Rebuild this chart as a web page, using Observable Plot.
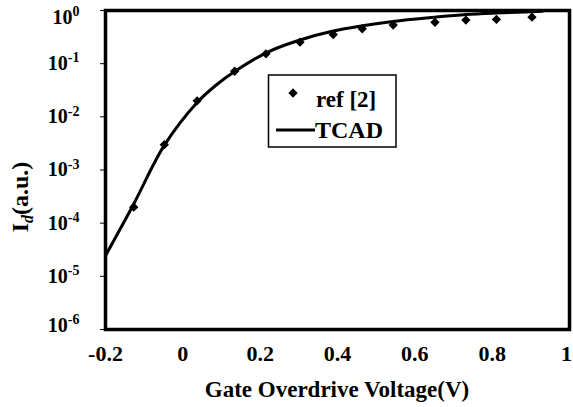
<!DOCTYPE html>
<html>
<head>
<meta charset="utf-8">
<script src="https://cdn.jsdelivr.net/npm/d3@7"></script>
<script src="https://cdn.jsdelivr.net/npm/@observablehq/plot@0.6"></script>
<style>
  html, body { margin: 0; padding: 0; background: #fff; }
  #chart { width: 573px; height: 407px; }
</style>
</head>
<body>
<div id="chart"></div>
<script>
// ref [2] measured points
const refV = [-0.127, -0.048, 0.037, 0.134, 0.215, 0.303, 0.389, 0.464, 0.544, 0.652, 0.732, 0.811, 0.903];
const refI = [2.0e-4, 3.0e-3, 0.02, 0.072, 0.153, 0.254, 0.354, 0.453, 0.534, 0.60, 0.66, 0.68, 0.75];
// TCAD curve
const tcadV = [-0.2, -0.127, -0.048, 0.037, 0.088, 0.134, 0.217, 0.295, 0.389, 0.544, 0.652, 0.732, 0.811, 0.903, 0.93];
const tcadI = [2.45e-5, 2.3e-4, 2.9e-3, 0.0186, 0.0406, 0.0713, 0.162, 0.267, 0.411, 0.621, 0.748, 0.841, 0.897, 0.945, 0.966];
// ticks
const xTicks = [-0.2, 0, 0.2, 0.4, 0.6, 0.8, 1];
const xTickLabels = ["-0.2", "0", "0.2", "0.4", "0.6", "0.8", "1"];
const yTicks = [1e-6, 1e-5, 1e-4, 1e-3, 1e-2, 1e-1, 1];
const yExponents = ["-6", "-5", "-4", "-3", "-2", "-1", "0"];
const legendLabels = ["ref [2]", "TCAD"];
const xTitle = "Gate Overdrive Voltage(V)";

const refData = refV.map((v, i) => ({v, I: refI[i]}));
const tcadData = tcadV.map((v, i) => ({v, I: tcadI[i]}));

const font = "'Liberation Serif', 'Times New Roman', serif";

const svg = Plot.plot({
  width: 573,
  height: 407,
  marginLeft: 105,
  marginRight: 4,
  marginTop: 10,
  marginBottom: 78,
  style: {fontFamily: font, fontWeight: "bold", fontSize: "20px", color: "black", background: "white"},
  x: {domain: [-0.2, 1]},
  y: {type: "log", domain: [1e-6, 1]},
  marks: [
    Plot.axisX({ticks: xTicks, tickSize: 0, tickPadding: 16, fontSize: 22,
      tickFormat: d => xTickLabels[xTicks.indexOf(d)], label: null}),
    Plot.axisY({ticks: yTicks, tickSize: 5, tickPadding: 21, fontSize: 20, strokeWidth: 1,
      tickFormat: d => yExponents[yTicks.indexOf(d)], label: null}),
    Plot.line(tcadData, {x: "v", y: "I", curve: "catmull-rom", stroke: "black", strokeWidth: 3}),
    Plot.dot(refData, {x: "v", y: "I", symbol: "diamond2", r: 4.2, fill: "black", stroke: "none"}),
    Plot.frame({stroke: "black", strokeWidth: 3.5})
  ]
});

const s = d3.select(svg);
// superscript exponents on y tick labels
s.selectAll('g[aria-label="y-axis tick label"] text').each(function() {
  const exp = this.textContent;
  const t = d3.select(this);
  t.text(null);
  t.append("tspan").text("10");
  t.append("tspan").attr("font-size", 14).attr("dy", "-0.55em").text(exp);
  if (exp === "0") t.attr("transform", (t.attr("transform") || "") + " translate(0,7)");
  if (exp === "-6") t.attr("transform", (t.attr("transform") || "") + " translate(0,-4)");
});
// keep the last x label inside the picture
const xl = s.selectAll('g[aria-label="x-axis tick label"] text').nodes();
if (xl.length) d3.select(xl[xl.length - 1]).attr("dx", -3);

// x axis title
s.append("text")
  .attr("x", 337).attr("y", 397)
  .attr("text-anchor", "middle")
  .attr("font-family", font).attr("font-weight", "bold").attr("font-size", 23)
  .attr("fill", "black")
  .text(xTitle);

// y axis title: I_d(a.u.)
const yt = s.append("text")
  .attr("transform", "translate(28,197) rotate(-90)")
  .attr("text-anchor", "middle")
  .attr("font-family", font).attr("font-weight", "bold").attr("font-size", 24)
  .attr("fill", "black");
yt.append("tspan").text("I");
yt.append("tspan").attr("font-size", 16).attr("dy", "0.3em").attr("font-style", "italic").text("d");
yt.append("tspan").attr("dy", "-0.2em").text("(a.u.)");

// legend
const lg = s.append("g").attr("aria-label", "legend").attr("text-anchor", "start");
lg.append("rect").attr("x", 268.5).attr("y", 75).attr("width", 127.5).attr("height", 72)
  .attr("fill", "white").attr("stroke", "black").attr("stroke-width", 1.5);
lg.append("path").attr("d", d3.symbol(d3.symbolDiamond2, Math.PI * 4.2 * 4.2)())
  .attr("transform", "translate(293,93)").attr("fill", "black");
lg.append("text").attr("x", 316).attr("y", 107).attr("text-anchor", "start")
  .attr("font-family", font).attr("font-weight", "bold").attr("font-size", 23).attr("fill", "black")
  .text(legendLabels[0]);
lg.append("line").attr("x1", 276).attr("x2", 315).attr("y1", 130).attr("y2", 130)
  .attr("stroke", "black").attr("stroke-width", 3);
lg.append("text").attr("x", 315).attr("y", 138).attr("text-anchor", "start")
  .attr("font-family", font).attr("font-weight", "bold").attr("font-size", 24).attr("fill", "black")
  .text(legendLabels[1]);

document.getElementById("chart").appendChild(svg);
</script>
</body>
</html>
